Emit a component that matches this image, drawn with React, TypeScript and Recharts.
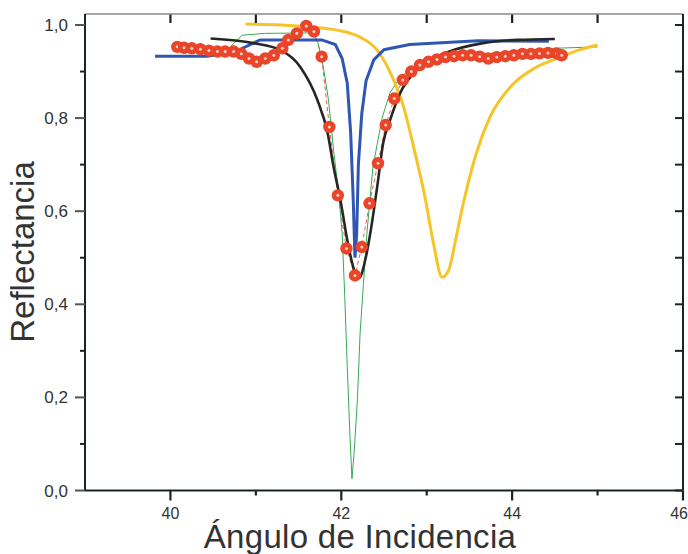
import React from 'react';
import { ComposedChart, Line, Scatter, XAxis, YAxis } from 'recharts';

// Experimental reflectance points (angle, reflectance)
const measured: [number, number][] = [
  [40.08, 0.953], [40.16, 0.951], [40.25, 0.95], [40.35, 0.948], [40.45, 0.945],
  [40.55, 0.943], [40.64, 0.943], [40.74, 0.943], [40.83, 0.938], [40.92, 0.928],
  [41.01, 0.921], [41.11, 0.928], [41.21, 0.935], [41.31, 0.95], [41.38, 0.968],
  [41.48, 0.982], [41.59, 0.998], [41.68, 0.986], [41.77, 0.932], [41.86, 0.781],
  [41.96, 0.634], [42.06, 0.52], [42.16, 0.462], [42.24, 0.523], [42.33, 0.617],
  [42.43, 0.703], [42.52, 0.785], [42.62, 0.842], [42.72, 0.882], [42.82, 0.9],
  [42.92, 0.914], [43.02, 0.921], [43.12, 0.926], [43.22, 0.931], [43.32, 0.933],
  [43.42, 0.935], [43.52, 0.935], [43.62, 0.932], [43.72, 0.928], [43.82, 0.931],
  [43.92, 0.933], [44.02, 0.935], [44.12, 0.938], [44.22, 0.938], [44.32, 0.939],
  [44.42, 0.94], [44.52, 0.939], [44.58, 0.935],
];

const blackCurve: [number, number][] = [
  [40.47, 0.971], [40.97, 0.961], [41.29, 0.946], [41.52, 0.91], [41.72, 0.839],
  [41.84, 0.768], [41.91, 0.695], [41.99, 0.624], [42.07, 0.538], [42.14, 0.48],
  [42.19, 0.456], [42.22, 0.458], [42.28, 0.495], [42.34, 0.553], [42.42, 0.652],
  [42.49, 0.746], [42.57, 0.795], [42.69, 0.854], [42.85, 0.897], [43.05, 0.925],
  [43.25, 0.942], [43.66, 0.961], [44.06, 0.968], [44.5, 0.97],
];

const blueCurve: [number, number][] = [
  [39.82, 0.933], [40.43, 0.933], [40.75, 0.942], [41.05, 0.968], [41.77, 0.968],
  [41.93, 0.958], [42.01, 0.928], [42.07, 0.875], [42.11, 0.768], [42.14, 0.624],
  [42.16, 0.5], [42.18, 0.55], [42.2, 0.7], [42.24, 0.81], [42.29, 0.88],
  [42.38, 0.925], [42.5, 0.947], [42.8, 0.958], [43.6, 0.966], [44.43, 0.965],
];

const yellowCurve: [number, number][] = [
  [40.88, 1.002], [41.3, 1.0], [41.6, 0.996], [41.95, 0.989], [42.22, 0.974],
  [42.42, 0.946], [42.58, 0.895], [42.72, 0.83], [42.85, 0.735], [42.98, 0.63],
  [43.08, 0.53], [43.18, 0.458], [43.26, 0.475], [43.34, 0.54], [43.42, 0.61],
  [43.58, 0.724], [43.74, 0.802], [43.98, 0.867], [44.26, 0.907], [44.54, 0.929],
  [44.78, 0.946], [45.0, 0.957],
];

const greenCurve: [number, number][] = [
  [40.7, 0.953], [40.84, 0.978], [41.1, 0.982], [41.65, 0.983], [41.72, 0.968],
  [41.79, 0.91], [41.85, 0.839], [41.91, 0.731], [41.97, 0.638], [42.01, 0.553],
  [42.04, 0.42], [42.07, 0.265], [42.1, 0.123], [42.125, 0.025], [42.15, 0.08],
  [42.19, 0.2], [42.22, 0.338], [42.26, 0.445], [42.3, 0.553], [42.37, 0.695],
  [42.48, 0.802], [42.57, 0.854], [42.69, 0.888], [42.85, 0.91], [43.1, 0.925],
  [43.5, 0.935], [44.0, 0.943], [44.5, 0.95], [45.0, 0.953],
];

const xTicksBottom = [40, 41, 42, 43, 44, 45, 46];
const xTicksTop = [40, 41, 42, 43, 44, 45];
const xMajorLabels = [40, 42, 44, 46];
const yTicks = [0, 0.1, 0.2, 0.3, 0.4, 0.5, 0.6, 0.7, 0.8, 0.9, 1.0];
const yMajorLabels = [0, 0.2, 0.4, 0.6, 0.8, 1.0];

const X_DOMAIN: [number, number] = [39, 46];
const Y_DOMAIN: [number, number] = [0, 1.0236];

const toRows = (arr: [number, number][]) => arr.map(([x, y]) => ({ x, y }));

const W = 688;
const H = 554;
const MARGIN = { top: 13, right: 4, bottom: 0, left: 0 };
const TOP_AXIS_H = 1;
const RIGHT_AXIS_W = 1;
const LEFT_AXIS_W = 85;
const BOTTOM_AXIS_H = 63.5;

const AXIS = '#1a2424';
const TXT = '#333333';
const FONT = '"Liberation Sans", Arial, sans-serif';

const isMajorY = (v: number) => yMajorLabels.some((m) => Math.abs(m - v) < 1e-6);

const renderBottomTick = (props: any) => {
  const x = Number(props.x);
  const y = Number(props.y);
  const v = props.payload.value;
  const major = xMajorLabels.includes(v);
  const last = v === 46;
  if (!major) return <g key={`bt-${v}`} />;
  return (
    <text
      key={`bt-${v}`}
      x={last ? x + 5 : x}
      y={y + 28}
      textAnchor={last ? 'end' : 'middle'}
      fontSize={16}
      fill={TXT}
      fontFamily={FONT}
    >
      {v}
    </text>
  );
};

const renderLeftTick = (props: any) => {
  const x = Number(props.x);
  const y = Number(props.y);
  const v = props.payload.value;
  if (!isMajorY(v)) return <g key={`lt-${v}`} />;
  return (
    <text key={`lt-${v}`} x={x - 17} y={y + 6} textAnchor="end" fontSize={17} fill={TXT} fontFamily={FONT}>
      {v.toFixed(1).replace('.', ',')}
    </text>
  );
};

const RedDot = (props: any) => {
  const { cx, cy } = props;
  if (cx == null || cy == null) return null;
  return (
    <g>
      <circle cx={cx} cy={cy} r={6.2} fill="#ea4529" />
      <circle cx={cx} cy={cy} r={1.5} fill="#ffffff" opacity={0.75} />
    </g>
  );
};

// Bottom/top tick marks drawn inside the x-axis label content, using the axis viewBox
const XTitle = (props: any) => {
  const vb = props.viewBox || {};
  const left = Number(vb.x);
  const width = Number(vb.width);
  const axisY = Number(vb.y);
  const plotTop = MARGIN.top + TOP_AXIS_H;
  const sx = (v: number) => left + ((v - X_DOMAIN[0]) / (X_DOMAIN[1] - X_DOMAIN[0])) * width;
  return (
    <g>
      {xTicksBottom.map((v) => (
        <line
          key={`b${v}`}
          x1={sx(v)}
          x2={sx(v)}
          y1={axisY}
          y2={axisY + (xMajorLabels.includes(v) ? 10 : 5)}
          stroke={AXIS}
          strokeWidth={2.2}
        />
      ))}
      {xTicksTop.map((v) => (
        <line key={`t${v}`} x1={sx(v)} x2={sx(v)} y1={plotTop} y2={plotTop + 9} stroke={AXIS} strokeWidth={2.2} />
      ))}
      <text x={360} y={548} textAnchor="middle" fontSize={33} fill={TXT} fontFamily={FONT} letterSpacing={0.3}>
        Ángulo de Incidencia
      </text>
    </g>
  );
};

// Left/right tick marks drawn inside the y-axis label content, using the axis viewBox
const YTitle = (props: any) => {
  const vb = props.viewBox || {};
  const top = Number(vb.y);
  const height = Number(vb.height);
  const axisX = Number(vb.x) + Number(vb.width);
  const plotRight = W - MARGIN.right - RIGHT_AXIS_W;
  const sy = (v: number) => top + height - ((v - Y_DOMAIN[0]) / (Y_DOMAIN[1] - Y_DOMAIN[0])) * height;
  return (
    <g>
      {yTicks.map((v) => (
        <line
          key={`l${v}`}
          x1={axisX - (isMajorY(v) ? 10 : 5)}
          x2={axisX}
          y1={sy(v)}
          y2={sy(v)}
          stroke={isMajorY(v) ? '#555' : AXIS}
          strokeWidth={2}
        />
      ))}
      {yTicks.map((v) => (
        <line key={`r${v}`} x1={plotRight - 8} x2={plotRight} y1={sy(v)} y2={sy(v)} stroke={AXIS} strokeWidth={2} />
      ))}
      <text
        x={34}
        y={252}
        textAnchor="middle"
        fontSize={33}
        fill={TXT}
        fontFamily={FONT}
        transform="rotate(-90 34 252)"
      >
        Reflectancia
      </text>
    </g>
  );
};

export default function App() {
  return (
    <div style={{ position: 'absolute', left: 0, top: 0, width: W, height: H, background: '#fff' }}>
      <ComposedChart width={W} height={H} margin={MARGIN}>
        <XAxis
          xAxisId="b"
          type="number"
          dataKey="x"
          domain={X_DOMAIN}
          allowDataOverflow
          ticks={xTicksBottom}
          interval={0}
          height={BOTTOM_AXIS_H}
          tickSize={0}
          tickMargin={0}
          tickLine={false}
          tick={renderBottomTick}
          axisLine={{ stroke: AXIS, strokeWidth: 2 }}
          label={{ content: (p: any) => <XTitle {...p} /> }}
        />
        <XAxis
          xAxisId="t"
          orientation="top"
          type="number"
          dataKey="x"
          domain={X_DOMAIN}
          allowDataOverflow
          ticks={xTicksTop}
          interval={0}
          height={TOP_AXIS_H}
          tickLine={false}
          tick={false}
          axisLine={{ stroke: '#8a8a8a', strokeWidth: 1.5 }}
        />
        <YAxis
          yAxisId="l"
          type="number"
          dataKey="y"
          domain={Y_DOMAIN}
          allowDataOverflow
          ticks={yTicks}
          interval={0}
          width={LEFT_AXIS_W}
          tickSize={0}
          tickMargin={0}
          tickLine={false}
          tick={renderLeftTick}
          axisLine={{ stroke: AXIS, strokeWidth: 2 }}
          label={{ content: (p: any) => <YTitle {...p} /> }}
        />
        <YAxis
          yAxisId="r"
          orientation="right"
          type="number"
          dataKey="y"
          domain={Y_DOMAIN}
          allowDataOverflow
          ticks={yTicks}
          interval={0}
          width={RIGHT_AXIS_W}
          tickLine={false}
          tick={false}
          axisLine={{ stroke: AXIS, strokeWidth: 2 }}
        />
        <Scatter
          xAxisId="b"
          yAxisId="l"
          data={toRows(measured)}
          dataKey="y"
          shape={<RedDot />}
          isAnimationActive={false}
        />
        <Line
          xAxisId="b"
          yAxisId="l"
          data={toRows(measured)}
          dataKey="y"
          type="linear"
          stroke="#ee5a46"
          strokeWidth={1}
          strokeDasharray="4 3"
          dot={false}
          isAnimationActive={false}
        />
        <Line
          xAxisId="b"
          yAxisId="l"
          data={toRows(greenCurve)}
          dataKey="y"
          type="linear"
          stroke="#37a955"
          strokeWidth={1}
          dot={false}
          isAnimationActive={false}
        />
        <Line
          xAxisId="b"
          yAxisId="l"
          data={toRows(yellowCurve)}
          dataKey="y"
          type="monotone"
          stroke="#f7c428"
          strokeWidth={3}
          dot={false}
          isAnimationActive={false}
        />
        <Line
          xAxisId="b"
          yAxisId="l"
          data={toRows(blueCurve)}
          dataKey="y"
          type="linear"
          stroke="#2f56b2"
          strokeWidth={3}
          dot={false}
          isAnimationActive={false}
        />
        <Line
          xAxisId="b"
          yAxisId="l"
          data={toRows(blackCurve)}
          dataKey="y"
          type="monotone"
          stroke="#262626"
          strokeWidth={2.6}
          dot={false}
          isAnimationActive={false}
        />
      </ComposedChart>
    </div>
  );
}
